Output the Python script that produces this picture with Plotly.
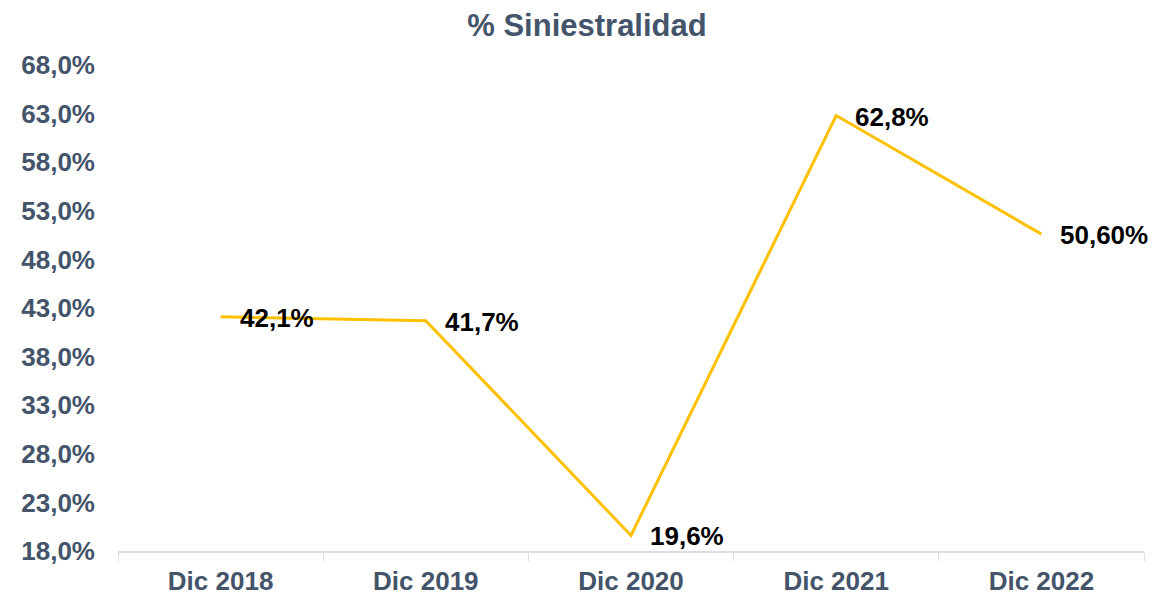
import plotly.graph_objects as go

categories = ["Dic 2018", "Dic 2019", "Dic 2020", "Dic 2021", "Dic 2022"]
siniestralidad = [42.1, 41.7, 19.6, 62.8, 50.6]
labels = ["42,1%", "41,7%", "19,6%", "62,8%", "50,60%"]
tick_vals = [18, 23, 28, 33, 38, 43, 48, 53, 58, 63, 68]
tick_text = ["18,0%", "23,0%", "28,0%", "33,0%", "38,0%", "43,0%", "48,0%",
             "53,0%", "58,0%", "63,0%", "68,0%"]

FONT = "Liberation Sans, Arial, sans-serif"
AXIS_COLOR = "#44546A"

fig = go.Figure()
fig.add_trace(go.Scatter(
    x=categories, y=siniestralidad, mode="lines",
    line=dict(color="#FFC000", width=3),
    hoverinfo="skip", showlegend=False,
))

for c, v, t in zip(categories, siniestralidad, labels):
    fig.add_annotation(
        x=c, y=v, text=f"<b>{t}</b>", showarrow=False,
        xanchor="left", yanchor="middle", xshift=17, yshift=-1,
        font=dict(family=FONT, size=26, color="#000000"),
    )

fig.update_layout(
    width=1161, height=588,
    margin=dict(l=110, r=25, t=57, b=45, autoexpand=False),
    paper_bgcolor="white", plot_bgcolor="white",
    title=dict(text="<b>% Siniestralidad</b>", x=0.4987, xanchor="center",
               xref="container", y=1 - 17 / 588, yref="container",
               yanchor="middle", automargin=False,
               font=dict(family=FONT, size=31, color=AXIS_COLOR)),
    font=dict(family=FONT, color=AXIS_COLOR),
)

fig.update_xaxes(
    type="category", range=[-0.5, 4.5], tickson="boundaries", ticks="outside",
    ticklen=8, tickcolor="#D9DDE3", showline=True, linecolor="#D9DDE3",
    linewidth=2, showgrid=False, zeroline=False, automargin=False,
    tickfont=dict(family=FONT, size=26, color=AXIS_COLOR),
    tickprefix="<b>", ticksuffix="</b>",
    ticklabelstandoff=6,
)

fig.update_yaxes(
    range=[18, 68], tickmode="array", tickvals=tick_vals,
    ticktext=[f"<b>{t}</b>" for t in tick_text],
    showgrid=False, zeroline=False, showline=False, ticks="",
    automargin=False,
    tickfont=dict(family=FONT, size=26, color=AXIS_COLOR),
    ticklabelstandoff=22,
)

fig.write_html("out.html")
